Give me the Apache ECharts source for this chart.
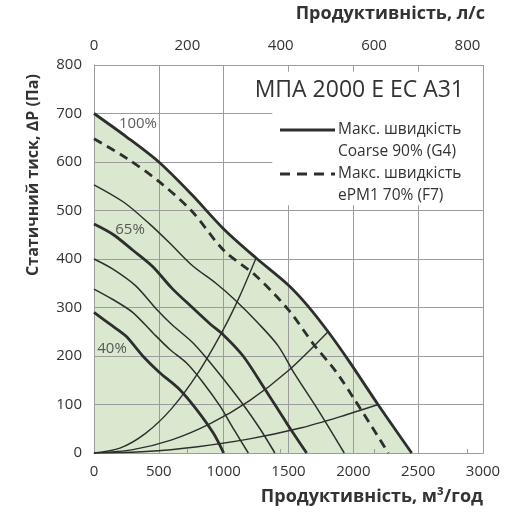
<!DOCTYPE html>
<html><head><meta charset="utf-8">
<script src="https://cdn.jsdelivr.net/npm/echarts@6/dist/echarts.min.js"></script>
<style>html,body{margin:0;padding:0;background:#fff}#c{width:526px;height:531px}</style>
</head><body><div id="c"></div>
<script>
// ---- data (m³/год, Па) ----
const flowTicks = [0, 500, 1000, 1500, 2000, 2500, 3000];
const pressureTicks = [0, 100, 200, 300, 400, 500, 600, 700, 800];
const lpsTicks = [0, 200, 400, 600, 800];

const curve100 = [[0,700],[250,652],[500,600],[750,534],[1000,462],[1250,402],[1500,346],[1650,303],[1800,252],[1960,192],[2190,100],[2450,0]];
const curveF7  = [[0,648],[250,608],[500,560],[750,500],[1000,418],[1250,365],[1500,295],[1700,222],[1860,170],[2010,110],[2270,0]];
const curve85  = [[0,553],[230,517],[430,472],[580,434],[760,386],[940,350],[1090,315],[1265,268],[1420,221],[1550,162],[1730,88],[1930,0]];
const curve65  = [[0,472],[150,450],[300,418],[450,385],[600,340],[750,302],[900,265],[1000,243],[1150,200],[1320,131],[1490,60],[1640,0]];
const curve55  = [[0,400],[140,380],[320,345],[480,297],[600,265],[760,228],[870,195],[1000,152],[1150,100],[1280,50],[1395,0]];
const curve48  = [[0,338],[142,317],[298,290],[453,248],[583,214],[712,186],[842,145],[971,97],[1080,48],[1190,0]];
const curve40  = [[0,290],[142,262],[246,241],[376,200],[505,166],[660,131],[790,90],[920,41],[1000,0]];

const system1 = [[0,0],[200,10],[400,41],[600,92],[800,164],[1000,256],[1125,324],[1250,402]];
const system2 = [[0,0],[300,7],[600,27],[900,61],[1200,108],[1500,170],[1805,250]];
const system3 = [[0,0],[400,3],[800,13],[1200,29],[1600,52],[1900,75],[2192,100]];

const speedLabels = ['100%', '65%', '40%'];
const speedLabelAt = [[339,678],[278,460],[139,214]];

const titleText = 'МПА 2000 E EC A31';
const legendLines = ['Макс. швидкість', 'Coarse 90% (G4)', 'Макс. швидкість', 'ePM1 70% (F7)'];

// ---- chart ----
const FONT = '"Open Sans", "Noto Sans", sans-serif';
const DARK = '#2e2e2e';
const GRID = '#9c9c9c';
const GREEN = '#dae8cf';
const SM = 0.3;

const chart = echarts.init(document.getElementById('c'), null, {renderer: 'canvas'});

function curve(data, width, type) {
  return {
    type: 'line', data: data, smooth: SM, symbol: 'none', z: 3, silent: true,
    lineStyle: {color: DARK, width: width, type: type || 'solid', cap: 'butt'}
  };
}

const option = {
  animation: false,
  backgroundColor: '#fff',
  grid: {left: 94, right: 43, top: 65, bottom: 78},
  xAxis: [{
    type: 'value', min: flowTicks[0], max: flowTicks[flowTicks.length-1], interval: flowTicks[1]-flowTicks[0],
    position: 'bottom', z: 1,
    axisLine: {show: true, lineStyle: {color: GRID, width: 1}},
    axisTick: {show: false},
    splitLine: {show: true, lineStyle: {color: GRID, width: 1}},
    axisLabel: {color: '#333', fontSize: 15, fontFamily: FONT, margin: 11, formatter: v => String(v)}
  }, {
    type: 'value', min: 0, max: flowTicks[flowTicks.length-1] / 3.6, position: 'top', z: 1,
    axisLine: {show: true, lineStyle: {color: GRID, width: 1}},
    axisTick: {show: true, length: 4, lineStyle: {color: GRID}, customValues: lpsTicks},
    splitLine: {show: false},
    axisLabel: {color: '#333', fontSize: 15, fontFamily: FONT, margin: 12, customValues: lpsTicks, formatter: v => String(v)}
  }],
  yAxis: [{
    type: 'value', min: pressureTicks[0], max: pressureTicks[pressureTicks.length-1], interval: 100, z: 1,
    axisLine: {show: true, lineStyle: {color: GRID, width: 1}},
    axisTick: {show: false},
    splitLine: {show: true, lineStyle: {color: GRID, width: 1}},
    axisLabel: {color: '#333', fontSize: 15, fontFamily: FONT, margin: 12, formatter: v => String(v)}
  }, {
    type: 'value', min: 0, max: 800, position: 'right', z: 1,
    axisLine: {show: true, lineStyle: {color: GRID, width: 1}},
    axisTick: {show: false}, axisLabel: {show: false}, splitLine: {show: false}
  }],
  series: [
    {type: 'line', data: curve100, smooth: SM, symbol: 'none', z: 0, silent: true,
     lineStyle: {width: 0, opacity: 0}, areaStyle: {color: GREEN, opacity: 1}},
    curve(system1, 1.4), curve(system2, 1.4), curve(system3, 1.4),
    curve(curve40, 2.8), curve(curve48, 1.5), curve(curve55, 1.5),
    curve(curve65, 2.8), curve(curve85, 1.5),
    curve(curveF7, 2.8, [9, 6]),
    curve(curve100, 2.8),
    {type: 'line', data: [], symbol: 'none', z: 4, silent: true,
     markArea: {silent: true, z: 4, itemStyle: {color: '#fff', borderWidth: 0},
       data: [[{coord: [1375, 786]}, {coord: [3000, 511]}]]}},
    {type: 'scatter', z: 5, silent: true, symbolSize: 0,
     data: speedLabels.map((t, i) => ({value: speedLabelAt[i], name: t})),
     label: {show: true, position: 'inside', formatter: p => p.name, color: '#333', fontSize: 15, fontFamily: FONT}}
  ],
  graphic: [
    {type: 'text', right: 526-485, top: 5, z: 10, style: {text: 'Продуктивність, л/с', font: 'bold 18px ' + FONT, fill: '#333'}},
    {type: 'text', right: 526-483, top: 488, z: 10, style: {text: 'Продуктивність, м³/год', font: 'bold 18px ' + FONT, fill: '#333'}},
    {type: 'text', x: 33, y: 175, rotation: Math.PI/2, z: 10,
     style: {text: 'Статичний тиск, ∆P (Па)', font: 'bold 16px ' + FONT, fill: '#333', align: 'center', verticalAlign: 'middle'}},
    {type: 'text', x: 464, y: 90, z: 10, style: {text: titleText, font: '23px ' + FONT, fill: '#333', align: 'right', verticalAlign: 'middle'}},
    {type: 'line', z: 10, shape: {x1: 280, y1: 130, x2: 335, y2: 130}, style: {stroke: DARK, lineWidth: 2.8}},
    {type: 'line', z: 10, shape: {x1: 280, y1: 174, x2: 335, y2: 174}, style: {stroke: DARK, lineWidth: 2.8, lineDash: [10, 7]}},
    {type: 'text', x: 338, y: 130, z: 10, style: {text: legendLines[0], font: '15.5px ' + FONT, fill: '#333', verticalAlign: 'middle'}},
    {type: 'text', x: 338, y: 152, z: 10, style: {text: legendLines[1], font: '15.5px ' + FONT, fill: '#333', verticalAlign: 'middle'}},
    {type: 'text', x: 338, y: 174, z: 10, style: {text: legendLines[2], font: '15.5px ' + FONT, fill: '#333', verticalAlign: 'middle'}},
    {type: 'text', x: 338, y: 196, z: 10, style: {text: legendLines[3], font: '15.5px ' + FONT, fill: '#333', verticalAlign: 'middle'}}
  ]
};
chart.setOption(option);
</script>
</body></html>
